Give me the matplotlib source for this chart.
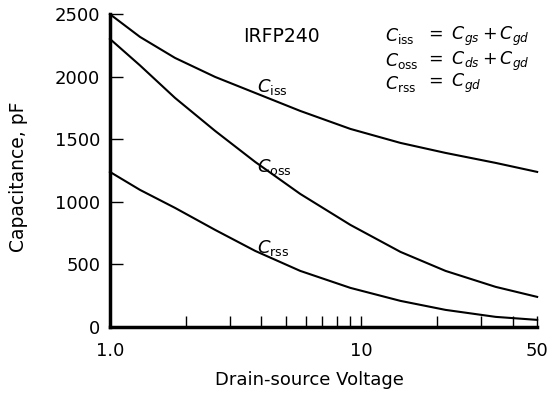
import matplotlib.pyplot as plt
import matplotlib.ticker as ticker

plt.rcParams['font.family'] = ['DejaVu Sans']
plt.rcParams['mathtext.fontset'] = 'dejavusans'

# values
voltage = [1.0, 1.317, 1.815, 2.62, 3.78, 5.71, 9.04, 14.3, 21.6, 34.2, 50]
c_iss = [2500, 2318, 2150, 1998, 1870, 1726, 1582, 1470, 1390, 1310, 1238]
c_oss = [2302, 2090, 1830, 1566, 1318, 1062, 814, 598, 446, 318, 238]
c_rss = [1238, 1094, 950, 774, 606, 446, 310, 206, 134, 78, 54]

x_major = [1, 10, 50]
x_major_labels = ['1.0', '10', '50']
x_minor = [2, 3, 4, 5, 6, 7, 8, 9, 20, 30, 40]
y_ticks = [0, 500, 1000, 1500, 2000, 2500]

fig = plt.figure(figsize=(5.47, 3.94), dpi=100)
ax = fig.add_axes([0.201, 0.171, 0.781, 0.793])

for c in (c_iss, c_oss, c_rss):
    ax.plot(voltage, c, color='black', lw=1.5, clip_on=False)

ax.set_xscale('log')
ax.set_xlim(1, 50)
ax.set_ylim(0, 2500)
ax.xaxis.set_major_locator(ticker.FixedLocator(x_major))
ax.xaxis.set_major_formatter(ticker.FixedFormatter(x_major_labels))
ax.xaxis.set_minor_locator(ticker.FixedLocator(x_minor))
ax.xaxis.set_minor_formatter(ticker.NullFormatter())
ax.set_yticks(y_ticks)

for s in ('top', 'right'):
    ax.spines[s].set_visible(False)
for s in ('left', 'bottom'):
    ax.spines[s].set_linewidth(2.5)

ax.tick_params(axis='x', which='both', direction='in', length=8, width=1,
               pad=11, labelsize=13)
ax.tick_params(axis='y', direction='in', length=9, width=1, pad=7, labelsize=13)

ax.set_xlabel('Drain-source Voltage', fontsize=13, va='center')
ax.xaxis.set_label_coords(0.468, -0.171)
ax.set_ylabel('Capacitance, pF', fontsize=13.5, va='center')
ax.yaxis.set_label_coords(-0.215, 0.479)

ax.text(0.312, 0.93, 'IRFP240', transform=ax.transAxes, fontsize=13.5,
        ha='left', va='center')

# curve labels
ax.text(3.85, 1918, r'$C_{\mathrm{iss}}$', fontsize=13, ha='left', va='center')
ax.text(3.85, 1275, r'$C_{\mathrm{oss}}$', fontsize=13, ha='left', va='center')
ax.text(3.85, 630, r'$C_{\mathrm{rss}}$', fontsize=13, ha='left', va='center')

# relation legend
eq_left = [r'$C_{\mathrm{iss}}$', r'$C_{\mathrm{oss}}$', r'$C_{\mathrm{rss}}$']
eq_right = [r'$=\ C_{gs} + C_{gd}$', r'$=\ C_{ds} + C_{gd}$', r'$=\ C_{gd}$']
eq_y = [0.930, 0.850, 0.777]
for l, r, yy in zip(eq_left, eq_right, eq_y):
    ax.text(0.644, yy, l, transform=ax.transAxes, fontsize=12.5, ha='left', va='center')
    ax.text(0.738, yy, r, transform=ax.transAxes, fontsize=12.5, ha='left', va='center')

fig.savefig('out.png', dpi=100)
